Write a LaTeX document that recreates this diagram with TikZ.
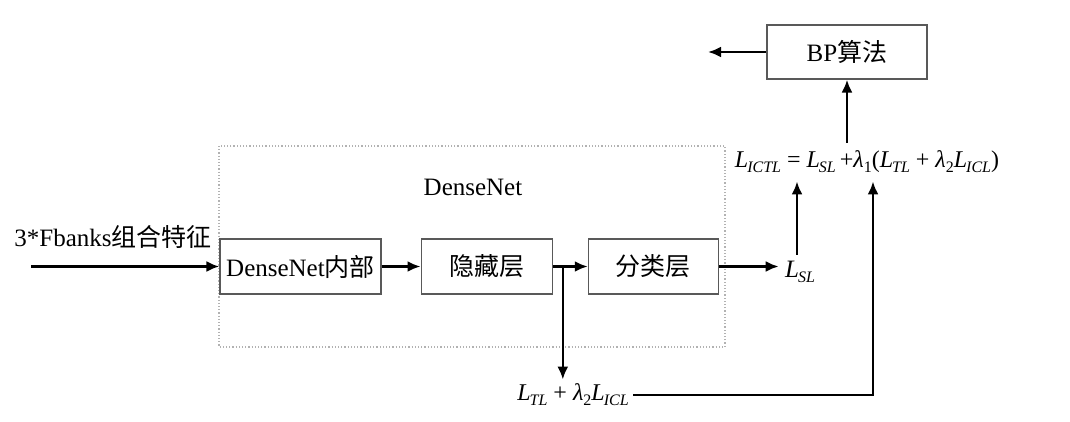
\documentclass[tikz,border=0pt,12pt]{standalone}
\usepackage{fontspec}
\setmainfont{Liberation Serif}
\newfontfamily\cjk{Noto Sans CJK SC}
\usetikzlibrary{positioning, arrows.meta}
% loss terms set in the text italic
\newcommand\term[2]{\textit{#1}\kern-.5pt\raisebox{-.45ex}{\scriptsize\textit{#2}}}
\newcommand\lam[1]{\textit{λ}\raisebox{-.45ex}{\scriptsize #1}}

\begin{document}
\begin{tikzpicture}[x = 0.5pt, y = -0.5pt, font = \fontsize{12.5}{15}\selectfont,
    box/.style = { draw = black!65, line width = .6pt, minimum height = 27.5pt, inner sep = 0pt },
    loss/.style = { font = \fontsize{12}{14}\selectfont },
    flow/.style = { -{Latex[length = 6.5pt, width = 5.5pt]}, line width = 1.3pt }]
      \useasboundingbox (0,0) rectangle (1070,422);
      \draw [black!30, densely dotted, line width = .6pt] (219,146) rectangle (725,347);
      \node (net) at (473,187) { DenseNet };
      \node [box, minimum width = 80.5pt] (inner) at (300.5,266.5) { DenseNet{\cjk 内部} };
      \node [box, minimum width = 65.5pt, right = 19.5pt of inner] (hidden) { {\cjk 隐藏层} };
      \node [box, minimum width = 65pt, right = 17.5pt of hidden] (cls) { {\cjk 分类层} };
      \node (feat) at (113,237) { 3*Fbanks{\cjk 组合特征} };
      \coordinate (start) at (31,266.5);
      \coordinate [right = 5pt of hidden.east] (split);
      \node [inner sep = 3pt] (lsl) at (800,272) { \term{L}{SL} };
      \node [loss] (total) at (867,162) { \term{L}{ICTL} = \term{L}{SL}\,+\lam{1}(\term{L}{TL} + \lam{2}\term{L}{ICL}) };
      \node [loss, inner sep = 2pt] (ltl) at (573,395) { \term{L}{TL} + \lam{2}\term{L}{ICL} };
      \node [box, minimum width = 80pt, minimum height = 27pt] (bp) at (847,52) { BP{\cjk 算法} };
      \coordinate (back) at (708,52);

      \draw [flow] (start) -- (inner);
      \draw [flow] (inner) -- (hidden);
      \draw [flow] (hidden) -- (cls);
      \draw [flow] (cls) -- (cls -| lsl.west);
      \draw [flow] (split) -- (split |- ltl.north);
      \draw [flow] ([xshift = -1.5pt] lsl.north) -- ([xshift = -1.5pt] lsl.north |- total.south);
      \draw [flow] (ltl.east) -| ([xshift = 3pt] total.south);
      \draw [flow] (bp |- total.north) -- (bp);
      \draw [flow] (bp) -- (back);
    \end{tikzpicture}
\end{document}
